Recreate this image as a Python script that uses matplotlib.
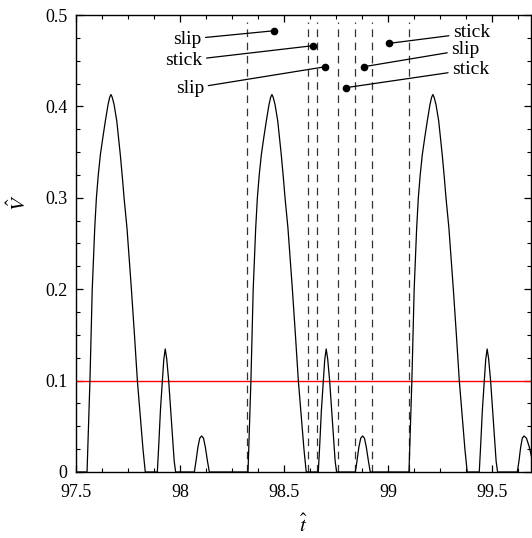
import matplotlib
matplotlib.use("Agg")
import matplotlib.pyplot as plt
import numpy as np

plt.rcParams['font.family'] = ['Liberation Serif', 'DejaVu Serif']
plt.rcParams['mathtext.fontset'] = 'stix'
plt.rcParams['lines.scale_dashes'] = False

# ---- curve data ----
t_main1 = [97.553, 97.560, 97.567, 97.578, 97.584, 97.590, 97.598, 97.607, 97.617, 97.629, 97.641, 97.654, 97.662, 97.668,
           97.674, 97.683, 97.696, 97.713, 97.723, 97.731, 97.745, 97.766, 97.781, 97.795, 97.811, 97.822, 97.833]
t_main2 = [98.327, 98.334, 98.341, 98.352, 98.358, 98.364, 98.372, 98.381, 98.391, 98.403, 98.415, 98.428, 98.436, 98.442,
           98.448, 98.457, 98.470, 98.487, 98.497, 98.505, 98.519, 98.540, 98.555, 98.569, 98.585, 98.596, 98.607]
t_main3 = [99.101, 99.108, 99.115, 99.126, 99.132, 99.138, 99.146, 99.155, 99.165, 99.177, 99.189, 99.202, 99.210, 99.216,
           99.222, 99.231, 99.244, 99.261, 99.271, 99.279, 99.293, 99.314, 99.329, 99.343, 99.359, 99.370, 99.381]
v_main = [0, 0.050, 0.100, 0.200, 0.235, 0.267, 0.300, 0.325, 0.347, 0.366, 0.384, 0.402, 0.410, 0.413,
          0.410, 0.402, 0.384, 0.347, 0.322, 0.300, 0.267, 0.201, 0.150, 0.100, 0.055, 0.025, 0]

t_small1 = [97.891, 97.898, 97.906, 97.915, 97.922, 97.929, 97.936, 97.9455, 97.955, 97.965, 97.972, 97.979]
t_small2 = [98.665, 98.672, 98.680, 98.689, 98.696, 98.703, 98.710, 98.7195, 98.729, 98.739, 98.746, 98.753]
t_small3 = [99.439, 99.446, 99.454, 99.463, 99.470, 99.477, 99.484, 99.4935, 99.503, 99.513, 99.520, 99.527]
v_small = [0, 0.030, 0.068, 0.100, 0.123, 0.1346, 0.124, 0.100, 0.068, 0.033, 0.012, 0]

t_tiny1 = [98.069, 98.077, 98.086, 98.095, 98.104, 98.113, 98.122, 98.132, 98.141]
t_tiny2 = [98.843, 98.851, 98.860, 98.869, 98.878, 98.887, 98.896, 98.906, 98.915]
t_tiny3 = [99.622, 99.630, 99.638, 99.646, 99.654, 99.666, 99.680, 99.695, 99.708]
v_tiny = [0, 0.012, 0.027, 0.037, 0.0394, 0.037, 0.027, 0.012, 0]

t_start = [97.45]
v_start = [0]

# dashed markers (zero crossings)
dashed_t = [98.3245, 98.614, 98.659, 98.758, 98.843, 98.923, 99.101]

# threshold
threshold = 0.1

# annotations
ann_labels = ['slip', 'stick', 'slip', 'stick', 'slip', 'stick']
ann_dot_t = [98.453, 98.638, 98.699, 99.006, 98.883, 98.798]
ann_dot_v = [0.4828, 0.4664, 0.4434, 0.4690, 0.4434, 0.4205]
ann_text_t = [98.103, 98.108, 98.116, 99.313, 99.305, 99.309]
ann_text_v = [0.4735, 0.4500, 0.4195, 0.4805, 0.4620, 0.4405]
ann_side = ['right', 'right', 'right', 'left', 'left', 'left']

xticks = [97.5, 98, 98.5, 99, 99.5]
xticklabels = ['97.5', '98', '98.5', '99', '99.5']
yticks = [0, 0.1, 0.2, 0.3, 0.4, 0.5]
yticklabels = ['0', '0.1', '0.2', '0.3', '0.4', '0.5']

t = t_start + t_main1 + t_small1 + t_tiny1 + t_main2 + t_small2 + t_tiny2 + t_main3 + t_small3 + t_tiny3
v = v_start + v_main + v_small + v_tiny + v_main + v_small + v_tiny + v_main + v_small + v_tiny

fig = plt.figure(figsize=(5.32, 5.38), dpi=100)
ax = fig.add_axes([0.1429, 0.1227, 0.8551, 0.8494])

ax.plot(t, v, color='black', lw=0.9, zorder=3)
ax.axhline(threshold, color='red', lw=1.0, zorder=2)
for xd in dashed_t:
    ax.plot([xd, xd], [0, 0.492], color='#333333', lw=0.9, dashes=(5.5, 4.0), zorder=1)

for lab, dt, dv, tt, tv, side in zip(ann_labels, ann_dot_t, ann_dot_v, ann_text_t, ann_text_v, ann_side):
    ax.annotate(lab, xy=(dt, dv), xytext=(tt, tv), ha=side, va='center', fontsize=14,
                arrowprops=dict(arrowstyle='-', lw=0.9, color='black', shrinkA=1, shrinkB=0))
    ax.plot([dt], [dv], 'o', color='black', ms=4.5, zorder=4)

ax.set_xlim(97.5, 99.6875)
ax.set_ylim(0, 0.5)
ax.set_xticks(xticks)
ax.set_xticklabels(xticklabels)
ax.set_yticks(yticks)
ax.set_yticklabels(yticklabels)
ax.set_xticks(np.arange(97.5, 99.69, 0.125), minor=True)
ax.set_yticks(np.arange(0, 0.501, 0.025), minor=True)
ax.tick_params(which='both', direction='in', top=True, right=True, labelsize=13)
ax.tick_params(which='major', length=5, width=0.9)
ax.tick_params(which='minor', length=3, width=0.8)
ax.tick_params(axis='x', which='major', pad=9)
ax.tick_params(axis='y', which='major', pad=6)
for s in ax.spines.values():
    s.set_linewidth(1.0)

ax.set_xlabel(r'$\hat{t}$', fontsize=15)
ax.set_ylabel(r'$\hat{V}$', fontsize=15)
ax.xaxis.set_label_coords(0.499, -0.094)
ax.yaxis.set_label_coords(-0.098, 0.589)

fig.savefig('out.png', dpi=100)
